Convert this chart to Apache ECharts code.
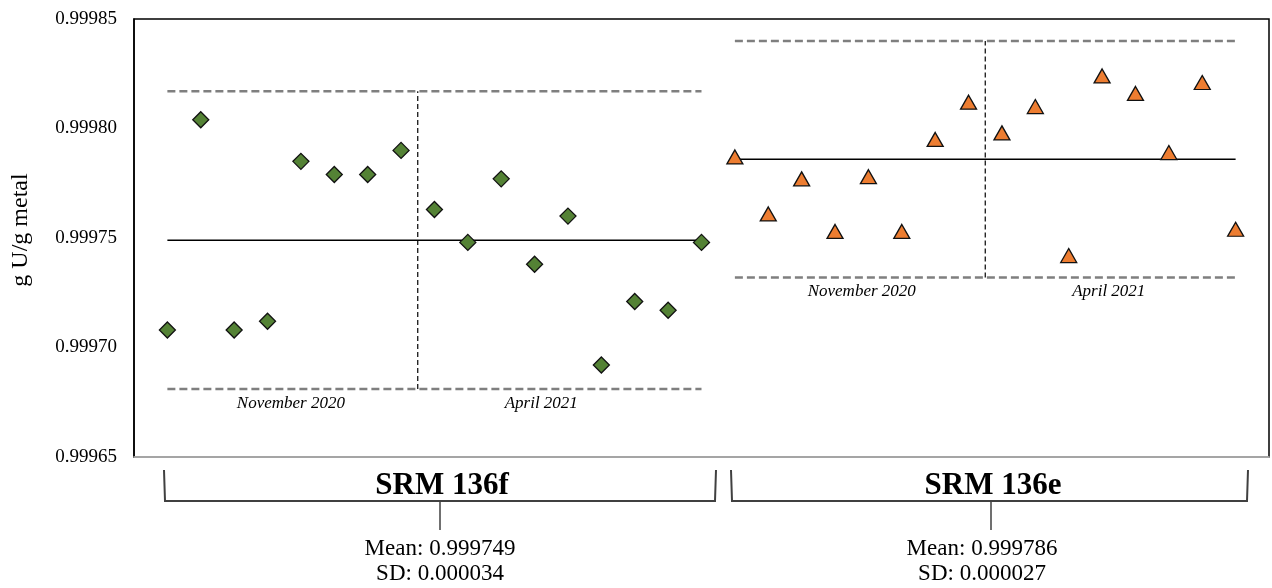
<!DOCTYPE html>
<html>
<head>
    <meta charset="utf-8">
    <title>SRM 136f / 136e</title>
    <script src="https://cdn.jsdelivr.net/npm/echarts@6/dist/echarts.min.js"></script>
    <style>
        html, body { margin: 0; padding: 0; background: #fff; }
    </style>
</head>
<body>
    <div id="main" style="width: 1272px;height:588px;"></div>
    <script type="text/javascript">
        // measured values, SRM 136f (green diamonds), run order 1..17
        var valuesF = [0.999708, 0.999804, 0.999708, 0.999712, 0.999785, 0.999779, 0.999779, 0.999790,
                       0.999763, 0.999748, 0.999777, 0.999738, 0.999760, 0.999692, 0.999721, 0.999717, 0.999748];
        // SRM 136e (orange triangles), run order 18..33
        var valuesE = [0.999787, 0.999761, 0.999777, 0.999753, 0.999778, 0.999753, 0.999795, 0.999812,
                       0.999798, 0.999810, 0.999742, 0.999824, 0.999816, 0.999789, 0.999821, 0.999754];

        var meanF = 0.999749, sdF = 0.000034;
        var meanE = 0.999786, sdE = 0.000027;
        var periods = ['November 2020', 'April 2021'];
        var yTicks = [0.99965, 0.99970, 0.99975, 0.99980, 0.99985];

        var font = 'Liberation Serif, Times New Roman, serif';
        var myChart = echarts.init(document.getElementById('main'));

        function points(vals, start) {
            var out = [];
            for (var i = 0; i < vals.length; i++) out.push([start + i, vals[i]]);
            return out;
        }

        function line(data, color, width, type) {
            return {
                type: 'line', data: data, symbol: 'none', silent: true, z: 1,
                lineStyle: { color: color, width: width, type: type },
                animation: false
            };
        }

        // mean line, mean +/- 2SD and the split between the two periods
        function bands(mean, sd, x0, x1) {
            var up = mean + 2 * sd, lo = mean - 2 * sd;
            var split = x0 + 7.5;
            return [
                line([[x0, up], [x1, up]], '#7f7f7f', 2.5, [8, 4]),
                line([[x0, lo], [x1, lo]], '#7f7f7f', 2.5, [8, 4]),
                line([[x0, mean], [x1, mean]], '#000', 1.5, 'solid'),
                line([[split, lo], [split, up]], '#000', 1.2, [5, 3])
            ];
        }

        var x0F = 1, x1F = valuesF.length;
        var x0E = valuesF.length + 1, x1E = valuesF.length + valuesE.length;

        var series = [].concat(bands(meanF, sdF, x0F, x1F), bands(meanE, sdE, x0E, x1E));
        series.push({
            type: 'scatter', name: 'SRM 136f', data: points(valuesF, x0F), z: 3,
            symbol: 'diamond', symbolSize: [16, 16],
            itemStyle: { color: '#548235', borderColor: '#111', borderWidth: 1.3, opacity: 1 },
            animation: false
        });
        series.push({
            type: 'scatter', name: 'SRM 136e', data: points(valuesE, x0E), z: 3,
            symbol: 'triangle', symbolSize: [16, 14],
            itemStyle: { color: '#ED7D31', borderColor: '#111', borderWidth: 1.3, opacity: 1 },
            animation: false
        });

        option = {
            backgroundColor: '#fff',
            grid: { left: 134, right: 3, top: 19, bottom: 131, show: true, borderColor: '#000', borderWidth: 1.5 },
            xAxis: {
                type: 'value', min: 0, max: 34,
                axisLine: { show: true, lineStyle: { color: '#c8c8c8', width: 1.5 } },
                axisTick: { show: false }, axisLabel: { show: false }, splitLine: { show: false }
            },
            yAxis: {
                type: 'value', min: yTicks[0], max: yTicks[yTicks.length - 1], interval: 0.00005,
                name: 'g U/g metal', nameLocation: 'middle', nameGap: 101,
                nameTextStyle: { fontFamily: font, fontSize: 24, color: '#000', padding: [0, 0, 0, 16] },
                axisLine: { show: true, lineStyle: { color: '#000', width: 1.5 } },
                axisTick: { show: false }, splitLine: { show: false },
                axisLabel: {
                    margin: 17, fontFamily: font, fontSize: 19, color: '#000',
                    formatter: function (v) { return v.toFixed(5); }
                }
            },
            series: series
        };
        myChart.setOption(option);

        function px(x, y) { return myChart.convertToPixel({ gridIndex: 0 }, [x, y]); }

        var graphics = [];
        function periodLabel(text, x, y) {
            var p = px(x, y);
            graphics.push({
                type: 'text', x: p[0], y: p[1] + 14,
                style: { text: text, font: 'italic 17px ' + font, fill: '#000', align: 'center', verticalAlign: 'middle' }
            });
        }
        periodLabel(periods[0], 4.7, meanF - 2 * sdF);
        periodLabel(periods[1], 12.2, meanF - 2 * sdF);
        periodLabel(periods[0], 21.8, meanE - 2 * sdE);
        periodLabel(periods[1], 29.2, meanE - 2 * sdE);

        function bracket(name, mean, sd, left, right, mid, textMid) {
            graphics.push({
                type: 'polyline',
                shape: { points: [[left, 470], [left + 1, 501], [right - 1, 501], [right, 470]] },
                style: { stroke: '#404040', lineWidth: 2, fill: null }
            });
            graphics.push({
                type: 'line', shape: { x1: mid, y1: 501, x2: mid, y2: 530 },
                style: { stroke: '#404040', lineWidth: 1.5 }
            });
            graphics.push({
                type: 'text', x: mid + 2, y: 486,
                style: { text: name, font: 'bold 31px ' + font, fill: '#000', align: 'center', verticalAlign: 'middle' }
            });
            graphics.push({
                type: 'text', x: textMid, y: 549,
                style: { text: 'Mean: ' + mean.toFixed(6), font: '23px ' + font, fill: '#000', align: 'center', verticalAlign: 'middle' }
            });
            graphics.push({
                type: 'text', x: textMid, y: 574,
                style: { text: 'SD: ' + sd.toFixed(6), font: '23px ' + font, fill: '#000', align: 'center', verticalAlign: 'middle' }
            });
        }
        bracket('SRM 136f', meanF, sdF, 164, 716, 440, 440);
        bracket('SRM 136e', meanE, sdE, 731, 1248, 991, 982);

        myChart.setOption({ graphic: graphics });
    </script>
</body>
</html>
